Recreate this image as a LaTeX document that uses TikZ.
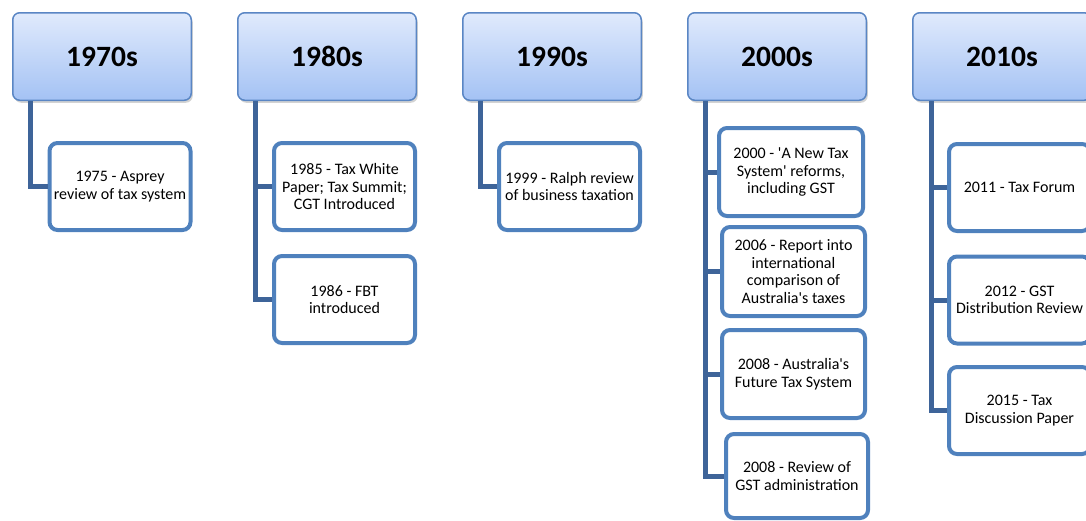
\documentclass[tikz,border=0pt]{standalone}
\usepackage{fontspec}
\setmainfont{Carlito}
\usetikzlibrary{shadows}
\definecolor{hdrtop}{HTML}{E0EAFC}
\definecolor{hdrbot}{HTML}{A4C2F4}
\definecolor{hdrborder}{HTML}{5A86C4}
\definecolor{childborder}{HTML}{4F81BD}
\definecolor{connc}{HTML}{3E6499}
\newcommand{\apos}{\textquotesingle}
\tikzset{
  hdr/.style={draw=hdrborder, line width=1.5pt, rounded corners=7pt,
    top color=hdrtop, bottom color=hdrbot, minimum width=178.5pt, minimum height=87.5pt,
    font=\fontsize{29.5}{32}\selectfont\bfseries, inner sep=0pt,
    drop shadow={shadow xshift=1.5pt, shadow yshift=-2.5pt, opacity=0.35}},
  child/.style={draw=childborder, line width=4pt, rounded corners=8pt, fill=white,
    minimum width=141pt, minimum height=87pt, inner sep=0pt, align=center,
    font=\fontsize{16}{17.7}\selectfont},
  conn/.style={draw=connc, line width=5pt}
}
\begin{document}
\begin{tikzpicture}[x=1pt,y=-1pt]
\useasboundingbox (0,0) rectangle (1086,520);
\coordinate (d1) at (30,101);
\coordinate (d2) at (255,101);
\coordinate (d3) at (480,101);
\coordinate (d4) at (705,101);
\coordinate (d5) at (931,101);

% children
\node[child] (c1) at (120,186.5) {1975 - Asprey\\review of tax system};
\node[child] (c2a) at (344.5,186.5) {1985 - Tax White\\Paper; Tax Summit;\\CGT Introduced};
\node[child] (c2b) at (344.5,299.5) {1986 - FBT\\introduced};
\node[child] (c3) at (569.5,186.5) {1999 - Ralph review\\of business taxation};
\node[child, minimum width=144pt, minimum height=88pt] (c4a) at (791,172) {2000 - \apos A New Tax\\System\apos{} reforms,\\including GST};
\node[child, minimum width=143pt, minimum height=89pt] (c4b) at (793.5,271.5) {2006 - Report into\\international\\comparison of\\Australia\apos s taxes};
\node[child, minimum width=143pt, minimum height=88pt] (c4c) at (793.5,374) {2008 - Australia\apos s\\Future Tax System};
\node[child, minimum width=142pt, minimum height=84pt] (c4d) at (797,476) {2008 - Review of\\GST administration};
\node[child] (c5a) at (1019.5,187.5) {2011 - Tax Forum};
\node[child] (c5b) at (1019.5,300) {2012 - GST\\Distribution Review};
\node[child] (c5c) at (1019.5,410.5) {2015 - Tax\\Discussion Paper};

% headers
\node[hdr] (h1) at (102,56.5) {1970s};
\node[hdr] (h2) at (327,56.5) {1980s};
\node[hdr] (h3) at (552,56.5) {1990s};
\node[hdr] (h4) at (777,56.5) {2000s};
\node[hdr] (h5) at (1002,56.5) {2010s};

% connectors
\draw[conn] (d1) |- (c1.west);
\draw[conn] (d2) |- (c2a.west);
\draw[conn] (d2) |- (c2b.west);
\draw[conn] (d3) |- (c3.west);
\draw[conn] (d4) |- (c4a.west);
\draw[conn] (d4) |- (c4b.west);
\draw[conn] (d4) |- (c4c.west);
\draw[conn] (d4) |- (c4d.west);
\draw[conn] (d5) |- (c5a.west);
\draw[conn] (d5) |- (c5b.west);
\draw[conn] (d5) |- (c5c.west);
\end{tikzpicture}
\end{document}
